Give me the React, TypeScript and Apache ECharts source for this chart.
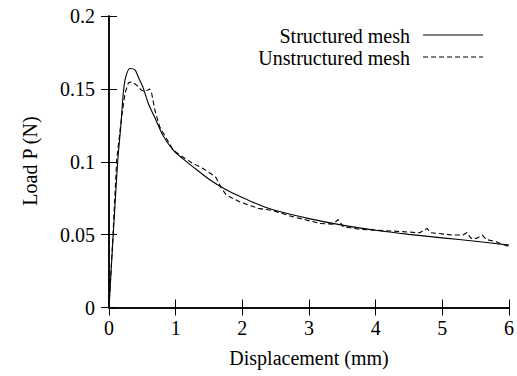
import React, { useEffect, useRef } from "react";
import * as echarts from "echarts";

const structuredX = [0, 0.07, 0.13, 0.18, 0.214, 0.25, 0.315, 0.39, 0.44, 0.51, 0.59, 0.69, 0.81, 0.963, 1.11, 1.26, 1.5, 1.75, 2.0, 2.25, 2.5, 3.0, 3.5, 4.0, 4.5, 5.0, 5.5, 6.0];
const structuredY = [0, 0.055, 0.1, 0.126, 0.147, 0.158, 0.164, 0.163, 0.158, 0.151, 0.14, 0.13, 0.118, 0.108, 0.102, 0.0965, 0.088, 0.081, 0.0755, 0.0705, 0.0665, 0.061, 0.0565, 0.053, 0.0502, 0.0478, 0.0455, 0.0428];

const unstructuredX = [0, 0.06, 0.115, 0.19, 0.24, 0.29, 0.34, 0.415, 0.49, 0.54, 0.61, 0.64, 0.69, 0.76, 0.963, 1.16, 1.26, 1.41, 1.56, 1.6, 1.69, 1.76, 1.96, 2.24, 2.46, 2.7, 2.96, 3.16, 3.36, 3.44, 3.51, 3.76, 4.16, 4.66, 4.77, 4.83, 5.16, 5.31, 5.37, 5.43, 5.51, 5.6, 5.66, 5.81, 6.0];
const unstructuredY = [0, 0.05, 0.101, 0.131, 0.147, 0.154, 0.155, 0.1525, 0.149, 0.148, 0.15, 0.147, 0.135, 0.124, 0.108, 0.1016, 0.0988, 0.0954, 0.0908, 0.0895, 0.0817, 0.0771, 0.0725, 0.068, 0.0665, 0.063, 0.06, 0.0577, 0.0572, 0.0604, 0.0554, 0.0536, 0.0527, 0.0513, 0.0543, 0.0513, 0.0497, 0.0497, 0.0515, 0.0474, 0.0474, 0.0497, 0.0467, 0.0451, 0.0417];

const xTicks = { min: 0, max: 6, interval: 1 };
const yTicks = { min: 0, max: 0.2, interval: 0.05 };

const seriesNames = ["Structured mesh", "Unstructured mesh"];
const xTitle = "Displacement (mm)";
const yTitle = "Load P (N)";

const FONT = "'Liberation Serif', 'Times New Roman', serif";

export default function App() {
  const ref = useRef<HTMLDivElement>(null);
  useEffect(() => {
    if (!ref.current) return;
    const chart = echarts.init(ref.current, undefined, { renderer: "svg" });
    const axisLine = { show: true, lineStyle: { color: "#000", width: 1.5 } };
    const axisTick = { show: true, inside: true, length: 8, lineStyle: { color: "#000", width: 1 } };
    const label = { color: "#000", fontFamily: FONT, fontSize: 20 };
    chart.setOption({
      animation: false,
      backgroundColor: "#fff",
      grid: { left: 109, right: 8, top: 16, bottom: 68.5, containLabel: false },
      xAxis: [
        {
          type: "value", ...xTicks, position: "bottom",
          axisLine, axisTick, splitLine: { show: false },
          axisLabel: { ...label, margin: 10 },
        },
        {
          type: "value", ...xTicks, position: "top",
          axisLine, axisTick, splitLine: { show: false },
          axisLabel: { show: false },
        },
      ],
      yAxis: [
        {
          type: "value", ...yTicks, position: "left",
          axisLine, axisTick, splitLine: { show: false },
          axisLabel: { ...label, margin: 14 },
        },
        {
          type: "value", ...yTicks, position: "right",
          axisLine, axisTick, splitLine: { show: false },
          axisLabel: { show: false },
        },
      ],
      series: [
        {
          name: seriesNames[0], type: "line", xAxisIndex: 0, yAxisIndex: 0,
          showSymbol: false, symbol: "none", smooth: 0.25,
          data: structuredX.map((x, i) => [x, structuredY[i]]),
          lineStyle: { color: "#000", width: 1.1, type: "solid" },
        },
        {
          name: seriesNames[1], type: "line", xAxisIndex: 0, yAxisIndex: 0,
          showSymbol: false, symbol: "none",
          data: unstructuredX.map((x, i) => [x, unstructuredY[i]]),
          lineStyle: { color: "#000", width: 1.1, type: [5, 3] },
        },
      ],
      graphic: [
        {
          type: "text", x: 410, y: 36,
          style: { text: seriesNames[0], fill: "#000", font: `20px ${FONT}`, textAlign: "right", textVerticalAlign: "middle" },
        },
        {
          type: "line", shape: { x1: 423, y1: 35, x2: 483, y2: 35 },
          style: { stroke: "#000", lineWidth: 1.1 },
        },
        {
          type: "text", x: 410, y: 58,
          style: { text: seriesNames[1], fill: "#000", font: `20px ${FONT}`, textAlign: "right", textVerticalAlign: "middle" },
        },
        {
          type: "line", shape: { x1: 423, y1: 57, x2: 483, y2: 57 },
          style: { stroke: "#000", lineWidth: 1.1, lineDash: [5, 3] },
        },
        {
          type: "text", x: 309, y: 358,
          style: { text: xTitle, fill: "#000", font: `20px ${FONT}`, textAlign: "center", textVerticalAlign: "middle" },
        },
        {
          type: "text", x: 30, y: 161, rotation: Math.PI / 2,
          style: { text: yTitle, fill: "#000", font: `20px ${FONT}`, textAlign: "center", textVerticalAlign: "middle" },
        },
      ],
    });
    return () => chart.dispose();
  }, []);
  return <div ref={ref} style={{ width: 517, height: 376, position: "absolute", left: 0, top: 0 }} />;
}
